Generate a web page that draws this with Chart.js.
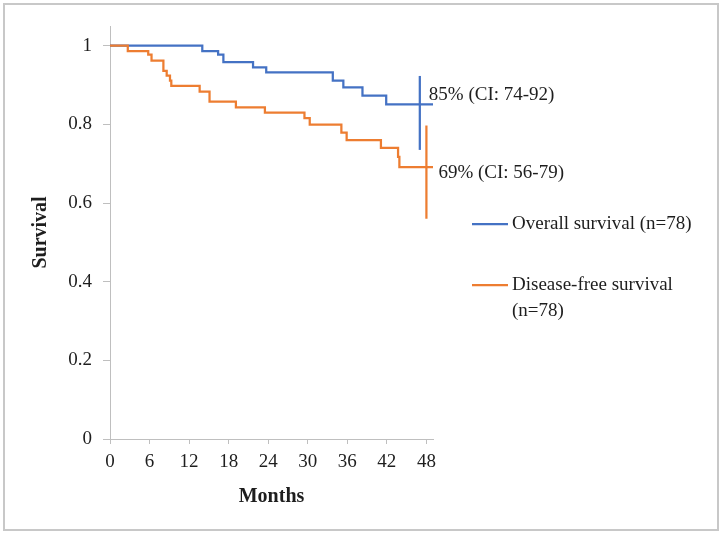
<!DOCTYPE html>
<html><head><meta charset="utf-8">
<script src="https://cdn.jsdelivr.net/npm/chart.js@4"></script>
<style>html,body{margin:0;padding:0;background:#fff;} canvas{display:block;}</style>
</head><body><canvas id="c" width="724" height="536"></canvas>
<script>
// ---- data ----
const xTickValues = [0, 6, 12, 18, 24, 30, 36, 42, 48];
const yTickValues = [0, 0.2, 0.4, 0.6, 0.8, 1];
const yTickLabels = ['0', '0.2', '0.4', '0.6', '0.8', '1'];

const osMonths   = [0, 14.0, 16.4, 17.2, 21.7, 23.7, 33.8, 35.4, 38.3, 41.9, 49];
const osSurvival = [1, 0.986, 0.977, 0.958, 0.945, 0.932, 0.911, 0.894, 0.873, 0.851, 0.851];

const dfsMonths   = [0, 2.7, 5.8, 6.3, 8.1, 8.6, 9.1, 9.3, 13.6, 15.1, 19.1, 23.5, 29.5, 30.3, 35.1, 35.9, 41.1, 43.7, 43.9, 49];
const dfsSurvival = [1, 0.986, 0.977, 0.962, 0.936, 0.924, 0.911, 0.898, 0.883, 0.858, 0.843, 0.830, 0.816, 0.799, 0.779, 0.760, 0.740, 0.717, 0.691, 0.691];

const osCIMonth   = [47, 47];
const osCIBounds  = [0.735, 0.923];
const dfsCIMonth  = [48, 48];
const dfsCIBounds = [0.560, 0.797];

const ciLabels    = ['85% (CI: 74-92)', '69% (CI: 56-79)'];
const seriesNames = [['Overall survival (n=78)'], ['Disease-free survival', '(n=78)']];

// ---- styles ----
const BLUE = '#4472C4', ORANGE = '#ED7D31', AXIS = '#bfbfbf', TEXT = '#1e1e1e';
const FONT = '"Liberation Serif", "Times New Roman", serif';

const toPts = (xs, ys) => xs.map((x, i) => ({x: x, y: ys[i]}));

const extras = {
  id: 'extras',
  beforeDraw(chart) {
    const ctx = chart.ctx;
    ctx.save();
    ctx.strokeStyle = '#c8c8c8';
    ctx.lineWidth = 2;
    ctx.strokeRect(4, 4, 714, 526);
    ctx.restore();
  },
  afterDraw(chart) {
    const ctx = chart.ctx;
    const xs = chart.scales.x, ys = chart.scales.y;
    ctx.save();
    ctx.font = '19px ' + FONT;
    ctx.fillStyle = TEXT;
    ctx.textBaseline = 'middle';
    ctx.textAlign = 'left';
    // CI labels
    ctx.fillText(ciLabels[0], xs.getPixelForValue(osCIMonth[0]) + 9, ys.getPixelForValue(osSurvival[osSurvival.length - 1]) - 9);
    ctx.fillText(ciLabels[1], xs.getPixelForValue(dfsCIMonth[0]) + 12, ys.getPixelForValue(dfsSurvival[dfsSurvival.length - 1]) + 6);
    // legend
    const colors = [BLUE, ORANGE];
    const rows = [224, 285];
    const lx0 = 472, lx1 = 508;
    for (let i = 0; i < 2; i++) {
      ctx.strokeStyle = colors[i];
      ctx.lineWidth = 2.25;
      ctx.beginPath();
      ctx.moveTo(lx0, rows[i]);
      ctx.lineTo(lx1, rows[i]);
      ctx.stroke();
      seriesNames[i].forEach((t, j) => ctx.fillText(t, 512, rows[i] + j * 26));
    }
    ctx.restore();
  }
};

new Chart(document.getElementById('c'), {
  type: 'line',
  data: {
    datasets: [
      {data: toPts(dfsMonths, dfsSurvival), borderColor: ORANGE, stepped: true},
      {data: toPts(osMonths, osSurvival), borderColor: BLUE, stepped: true},
      {data: toPts(osCIMonth, osCIBounds), borderColor: BLUE},
      {data: toPts(dfsCIMonth, dfsCIBounds), borderColor: ORANGE}
    ]
  },
  options: {
    responsive: false,
    animation: false,
    devicePixelRatio: 1,
    layout: {padding: {left: 0, top: 26, right: 291, bottom: 0}},
    elements: {
      point: {radius: 0, hoverRadius: 0},
      line: {borderWidth: 2.25, tension: 0, fill: false, borderCapStyle: 'butt'}
    },
    plugins: {legend: {display: false}, tooltip: {enabled: false}},
    scales: {
      x: {
        type: 'linear', min: 0, max: 49,
        afterBuildTicks: s => { s.ticks = xTickValues.map(v => ({value: v})); },
        afterFit: s => { s.height = 97; },
        ticks: {font: {family: FONT, size: 19}, color: TEXT, padding: 7, maxRotation: 0, autoSkip: false, callback: v => String(v)},
        grid: {drawOnChartArea: false, drawTicks: true, tickLength: 5, color: AXIS},
        border: {color: AXIS, width: 1},
        title: {display: true, text: 'Months', color: TEXT, font: {family: FONT, size: 20, weight: 'bold'}, padding: {top: 0, bottom: 27}}
      },
      y: {
        type: 'linear', min: 0, max: 1.05,
        afterBuildTicks: s => { s.ticks = yTickValues.map(v => ({value: v})); },
        afterFit: s => { s.width = 110; },
        ticks: {font: {family: FONT, size: 19}, color: TEXT, padding: 11, autoSkip: false, callback: (v, i) => yTickLabels[i]},
        grid: {drawOnChartArea: false, drawTicks: true, tickLength: 7, color: AXIS},
        border: {color: AXIS, width: 1},
        title: {display: true, text: 'Survival', color: TEXT, font: {family: FONT, size: 20, weight: 'bold'}, padding: {top: 29, bottom: 0}}
      }
    }
  },
  plugins: [extras]
});
</script>
</body></html>
